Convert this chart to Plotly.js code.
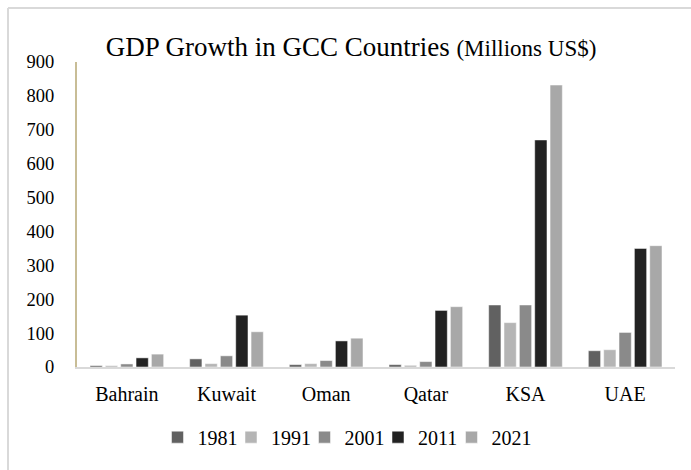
<!DOCTYPE html>
<html>
<head>
<meta charset="utf-8">
<script src="https://cdn.plot.ly/plotly-3.0.1.min.js"></script>
<style>html,body{margin:0;padding:0;background:#fff;}#chart{width:691px;height:470px;}</style>
</head>
<body>
<div id="chart"></div>
<script>
const countries = ["Bahrain", "Kuwait", "Oman", "Qatar", "KSA", "UAE"];
const years = ["1981", "1991", "2001", "2011", "2021"];
const gdp1981 = [4, 24, 7, 7, 183, 48];
const gdp1991 = [4, 10, 10, 5, 131, 51];
const gdp2001 = [9, 33, 19, 16, 183, 102];
const gdp2011 = [27, 153, 77, 167, 670, 350];
const gdp2021 = [38, 104, 85, 178, 832, 358];
const yTicks = [0, 100, 200, 300, 400, 500, 600, 700, 800, 900];

const seriesValues = [gdp1981, gdp1991, gdp2001, gdp2011, gdp2021];
const colors = ["#616161", "#b5b5b5", "#8a8a8a", "#222222", "#a8a8a8"];

const font = "Liberation Serif, Times New Roman, serif";
const legendIds = ["legend", "legend2", "legend3", "legend4", "legend5"];

const traces = years.map((y, i) => ({
  type: "bar",
  name: y,
  x: countries,
  y: seriesValues[i],
  legend: legendIds[i],
  marker: { color: colors[i], line: { color: "rgba(255,255,255,0.5)", width: 1 } },
  hoverinfo: "x+y+name"
}));

const layout = {
  width: 691,
  height: 470,
  margin: { l: 77, r: 16, t: 62, b: 103 },
  paper_bgcolor: "#ffffff",
  plot_bgcolor: "#ffffff",
  font: { family: font, size: 19, color: "#000000" },
  title: {
    text: "GDP Growth in GCC Countries <span style='font-size:23px'>(Millions US$)</span>",
    font: { family: font, size: 27, color: "#000000" },
    x: 351 / 691, xref: "container", xanchor: "center",
    y: 1 - 47 / 470, yref: "container", yanchor: "middle"
  },
  barmode: "group",
  bargap: 0.23,
  bargroupgap: 0.2,
  xaxis: {
    showline: true, linecolor: "#d9d9d9", linewidth: 2,
    ticks: "", showgrid: false, zeroline: false,
    tickfont: { family: font, size: 20, color: "#000" },
    ticklabelstandoff: 8
  },
  yaxis: {
    range: [0, 900],
    tickvals: yTicks,
    ticktext: yTicks.map(String),
    showline: true, linecolor: "#c8bd96", linewidth: 2,
    showgrid: false, zeroline: false, ticks: "",
    tickfont: { family: font, size: 18.5, color: "#000" },
    ticklabelstandoff: 17
  },
  showlegend: true,
  shapes: [
    { type: "line", xref: "paper", yref: "paper", x0: -0.1154, x1: -0.1154, y0: 1.177, y1: -0.34, line: { color: "#d9d9d9", width: 2 } },
    { type: "line", xref: "paper", yref: "paper", x0: -0.1154, x1: 1.03, y0: 1.177, y1: 1.177, line: { color: "#d9d9d9", width: 2 } }
  ]
};

legendIds.forEach((id, i) => {
  layout[id] = {
    orientation: "h",
    x: (157.5 + 73.5 * i - 77) / 598, xanchor: "left",
    y: -0.23, yanchor: "middle",
    font: { family: font, size: 20, color: "#000" },
    itemwidth: 30,
    bgcolor: "rgba(0,0,0,0)"
  };
});

Plotly.newPlot("chart", traces, layout, { displayModeBar: false, staticPlot: true });
</script>
</body>
</html>
